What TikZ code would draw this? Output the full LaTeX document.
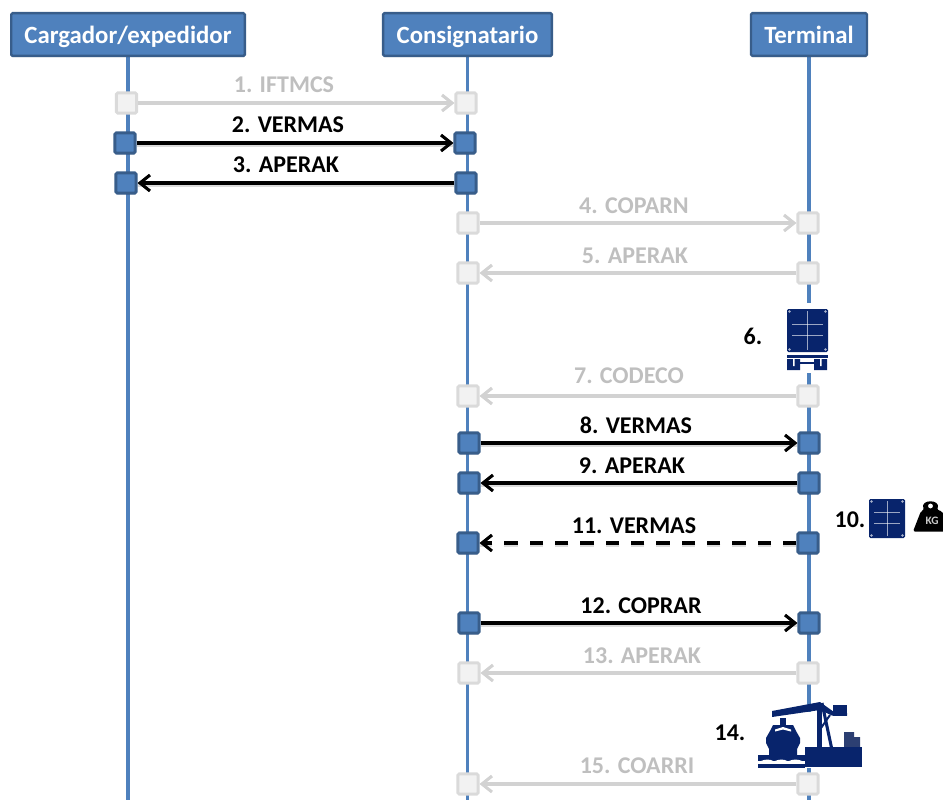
\documentclass[tikz,border=0pt]{standalone}
\usepackage{fontspec}
\setmainfont{Carlito}
\usetikzlibrary{arrows.meta,shadows}
\definecolor{blu}{HTML}{4F81BD}
\definecolor{bluedge}{HTML}{385D8A}
\definecolor{navy}{HTML}{08246C}
\definecolor{greyfill}{HTML}{F2F2F2}
\definecolor{greyedge}{HTML}{DADADA}
\definecolor{greyline}{HTML}{D2D2D2}
\definecolor{greytext}{HTML}{BFBFBF}
\tikzset{
  x=0.75pt,y=-0.75pt,
  softshadow/.style={drop shadow={shadow xshift=0.5pt,shadow yshift=-0.9pt,opacity=.22,fill=black}},
  header/.style={draw=bluedge,fill=blu,line width=1.8pt,rounded corners=1pt,inner sep=0pt,minimum height=32pt,text height=16pt,text depth=3pt,text=white,font=\fontsize{18.6}{21}\selectfont\bfseries,softshadow},
  life/.style={draw=blu,line width=2.6pt},
  act/.style={draw=bluedge,fill=blu,line width=2.1pt,rounded corners=1pt,minimum size=15.2pt,inner sep=0pt,softshadow},
  off/.style={draw=greyedge,fill=greyfill,line width=2.1pt,rounded corners=1pt,minimum size=15.2pt,inner sep=0pt},
  linetip/.style={-{Straight Barb[length=7.5pt,width=12pt,line width=2.3pt]}},
  msg/.style={draw=black,line width=2.7pt,linetip},
  gmsg/.style={draw=greyline,line width=2.9pt,linetip},
  under/.style={draw=black,opacity=.14,line width=2.6pt,transform canvas={yshift=-2pt}},
  lab/.style={font=\fontsize{18}{21}\selectfont\bfseries,text=black,inner sep=0pt},
  glab/.style={lab,text=greytext},
  iconline/.style={draw=white,line width=0.6pt,opacity=.6},
}
\newcommand{\cargobox}[4]{% left top right bottom
  \fill[navy,rounded corners=1pt] (#1,#2) rectangle (#3,#4);
  \draw[iconline] ({(#1+#3)/2},{#2+2}) -- ({(#1+#3)/2},{#4-2});
  \draw[iconline] ({#1+5},{#2+0.35*(#4-#2)}) -- ({#3-5},{#2+0.35*(#4-#2)});
  \draw[iconline] ({#1+5},{#2+0.62*(#4-#2)}) -- ({#3-5},{#2+0.62*(#4-#2)});
  \fill[white,opacity=.65] ({#1+2.5},{#2+2.5}) circle (1.3) ({#3-2.5},{#2+2.5}) circle (1.3) ({#1+2.5},{#4-2.5}) circle (1.3) ({#3-2.5},{#4-2.5}) circle (1.3);
}
\begin{document}
\begin{tikzpicture}
\useasboundingbox (0,0) rectangle (943,800);
% lifeline end points and headers
\coordinate (shipend) at (128,800);
\coordinate (consend) at (467.5,800);
\coordinate (termend) at (809,800);
\coordinate (shiptop) at (128,34.5);
\coordinate (constop) at (467.5,34.5);
\coordinate (termtop) at (809,34.5);
\draw[life] (shiptop) -- (shipend);
\draw[life] (constop) -- (consend);
\draw[life] (termtop) -- (termend);
\node[header,minimum width=175.2pt] (ship) at (128,34.5) {Cargador/expedidor};
\node[header,minimum width=126.5pt] (cons) at (467.5,34.5) {Consignatario};
\node[header,minimum width=87pt] (term) at (809,34.5) {Terminal};
% boxes
\node[off] (a1) at (126.5,103) {};  \node[off] (b1) at (466,103) {};
\node[act] (a2) at (125,143) {};    \node[act] (b2) at (465,143) {};
\node[act] (a3) at (126,183) {};    \node[act] (b3) at (466,183) {};
\node[off] (b4) at (468,223) {};    \node[off] (c4) at (808,223) {};
\node[off] (b5) at (468,273) {};    \node[off] (c5) at (808,273) {};
\node[off] (b7) at (468,396) {};    \node[off] (c7) at (808,396) {};
\node[act] (b8) at (469,443) {};    \node[act] (c8) at (809,443) {};
\node[act] (b9) at (469,483) {};    \node[act] (c9) at (809,483) {};
\node[act] (b11) at (468,543) {};   \node[act] (c11) at (808,543) {};
\node[act] (b12) at (469,623) {};   \node[act] (c12) at (809,623) {};
\node[off] (b13) at (469,673) {};   \node[off] (c13) at (808,673) {};
\node[off] (b15) at (468,784) {};   \node[off] (c15) at (808,784) {};
% connector shadows
\draw[under] (a2) -- (b2);
\draw[under] (b3) -- (a3);
\draw[under] (b8) -- (c8);
\draw[under] (c9) -- (b9);
\draw[under,dash pattern=on 10pt off 9pt] (c11) -- (b11);
\draw[under] (b12) -- (c12);
% connectors
\draw[gmsg] (a1) -- (b1);
\draw[msg]  (a2) -- (b2);
\draw[msg]  (b3) -- (a3);
\draw[gmsg] (b4) -- (c4);
\draw[gmsg] (c5) -- (b5);
\draw[gmsg] (c7) -- (b7);
\draw[msg]  (b8) -- (c8);
\draw[msg]  (c9) -- (b9);
\draw[msg,dash pattern=on 10pt off 9pt] (c11) -- (b11);
\draw[msg]  (b12) -- (c12);
\draw[gmsg] (c13) -- (b13);
\draw[gmsg] (c15) -- (b15);
% labels
\node[glab] (l1) at (284,84.5) {1. IFTMCS};
\node[lab]  (l2) at (288,124.5) {2. VERMAS};
\node[lab]  (l3) at (286,164.5) {3. APERAK};
\node[glab] (l4) at (634,205.5) {4. COPARN};
\node[glab] (l5) at (635,255.5) {5. APERAK};
\node[lab]  (l6) at (753,336) {6.};
\node[glab] (l7) at (629,375.5) {7. CODECO};
\node[lab]  (l8) at (636,425) {8. VERMAS};
\node[lab]  (l9) at (632,465.5) {9. APERAK};
\node[lab]  (l10) at (850,520) {10.};
\node[lab]  (l11) at (634,525.5) {11. VERMAS};
\node[lab]  (l12) at (641,605.5) {12. COPRAR};
\node[glab] (l13) at (642,655.5) {13. APERAK};
\node[lab]  (l14) at (730,733) {14.};
\node[glab] (l15) at (637,765.5) {15. COARRI};
% icon 6: container on a chassis
\fill[white] (772,303) rectangle (834,373);
\cargobox{787}{309}{828}{352}
\fill[navy] (787,355) rectangle (828,357.5);
\fill[navy] (787,359) rectangle (800,370) (814,359) rectangle (827,370);
\fill[white] (793,359) rectangle (794.5,366) (820,359) rectangle (821.5,366);
\fill[navy] (800,361.5) rectangle (814,363.5);
% icon 10: container and weight
\cargobox{869}{499}{905}{538}
\fill[black,rounded corners=1.5pt] (913,531.5) -- (921,511) -- (924,510) .. controls (920,499) and (941,499) .. (937,510) -- (942,511) -- (951,531.5) -- cycle;
\fill[white] (930.5,506) circle (2.4);
\node[font=\fontsize{8.5}{9}\selectfont\bfseries,text=white!80!black,inner sep=0pt] (kg) at (932,521) {KG};
% icon 14: ship and crane
\fill[white] (751,712) rectangle (863,768);
\fill[navy] (780,718) rectangle (786,725);
\fill[navy] (773,725) -- (793,725) -- (796,731) -- (800,738) -- (800,743) -- (797,749) -- (797,758) -- (769,758) -- (769,749) -- (766,743) -- (766,738) -- (770,731) -- cycle;
\fill[white] (775,729.5) -- (783,727) -- (791,729.5) -- (791,731.5) -- (783,729.5) -- (775,731.5) -- cycle;
\fill[navy] (758,755) rectangle (805,761);
\fill[navy] (758,764) rectangle (805,768);
\draw[white,line width=0.9pt] (760,762) .. controls (766,759.5) and (769,759.5) .. (774,762) .. controls (780,759.5) and (783,759.5) .. (788,762) .. controls (794,759.5) and (797,759.5) .. (803,762);
\fill[navy!70!gray] (844,732) rectangle (854,747) (854,737) rectangle (860,747);
\fill[navy] (805,747) rectangle (862,767);
\fill[navy] (833,705) rectangle (847,715.5);
\fill[navy] (772,711) -- (820,702) -- (834,712) -- (847,713) -- (847,715.5) -- (832,715.5) -- (820,710) -- (772,717) -- cycle;
\fill[navy] (816.5,704) rectangle (821.5,750);
\draw[navy,line width=2.3pt] (822,703) -- (832,750);
\draw[navy,line width=1.5pt] (830,715) -- (821,728);
\end{tikzpicture}
\end{document}
